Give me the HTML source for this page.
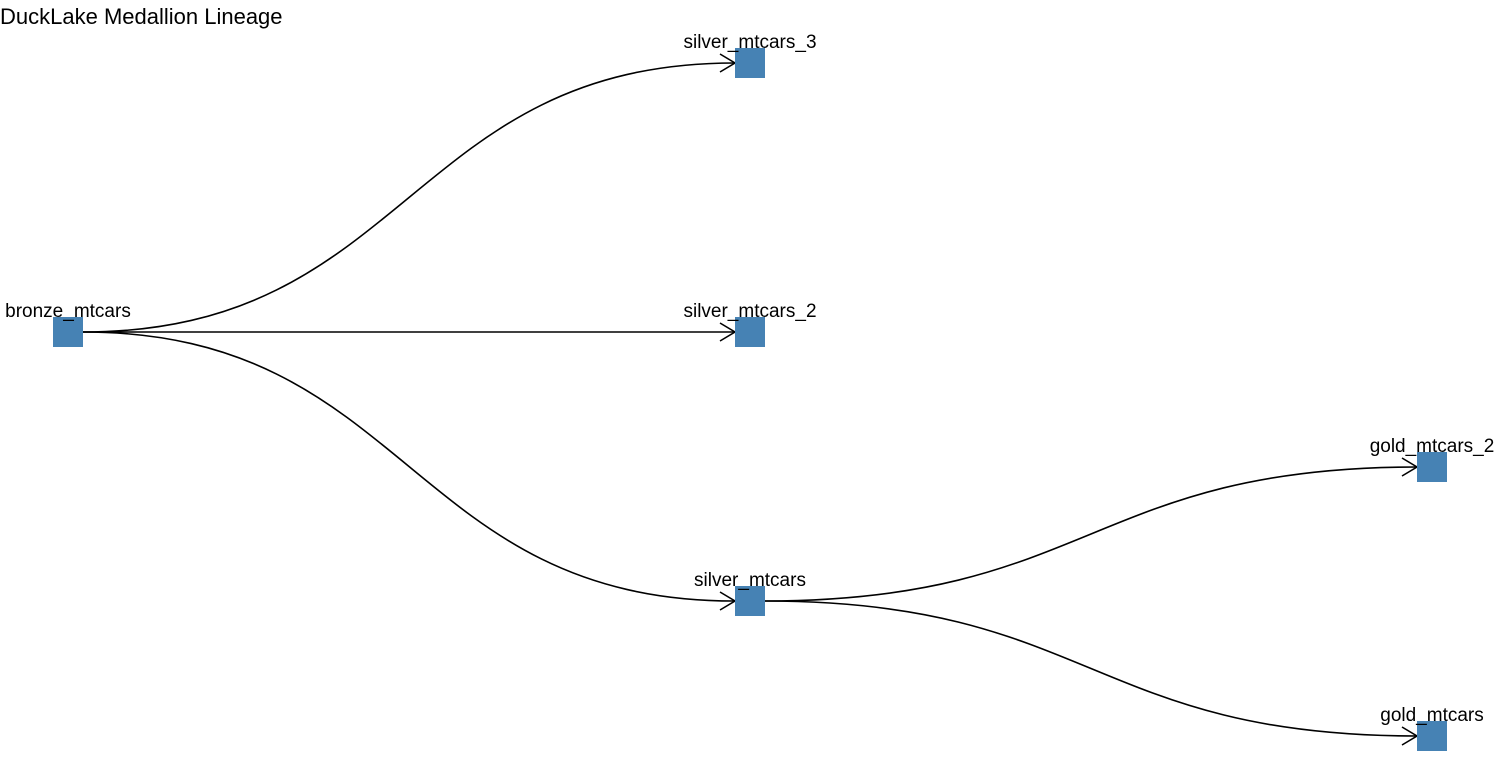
<!DOCTYPE html>
<html><head><meta charset="utf-8"><style>
html,body{margin:0;padding:0;background:#fff;width:1500px;height:770px;overflow:hidden}
svg{display:block}
text{font-family:"Liberation Sans",sans-serif;fill:#000}
</style></head><body>
<svg width="1500" height="770" xmlns="http://www.w3.org/2000/svg">
<g fill="none" stroke="#000" stroke-width="1.6">
<path d="M83 332 C 409 332, 409 63, 735 63"/>
<path d="M83 332 L735 332"/>
<path d="M83 332 C 409 332, 409 601, 735 601"/>
<path d="M765 601 C 1091 601, 1091 467, 1417 467"/>
<path d="M765 601 C 1091 601, 1091 736, 1417 736"/>
<path d="M720 54 L735 63 L720 72"/>
<path d="M720 323 L735 332 L720 341"/>
<path d="M720 592 L735 601 L720 610"/>
<path d="M1402 458 L1417 467 L1402 476"/>
<path d="M1402 727 L1417 736 L1402 745"/>
</g>
<g fill="#4682b4">
<rect x="53" y="317" width="30" height="30"/>
<rect x="735" y="48" width="30" height="30"/>
<rect x="735" y="317" width="30" height="30"/>
<rect x="735" y="586" width="30" height="30"/>
<rect x="1417" y="452" width="30" height="30"/>
<rect x="1417" y="721" width="30" height="30"/>
</g>
<g font-size="19" text-anchor="middle">
<text x="68" y="317">bronze_mtcars</text>
<text x="750" y="48">silver_mtcars_3</text>
<text x="750" y="317">silver_mtcars_2</text>
<text x="750" y="586">silver_mtcars</text>
<text x="1432" y="452">gold_mtcars_2</text>
<text x="1432" y="721">gold_mtcars</text>
</g>
<text x="0" y="24" font-size="22">DuckLake Medallion Lineage</text>
</svg>
</body></html>
